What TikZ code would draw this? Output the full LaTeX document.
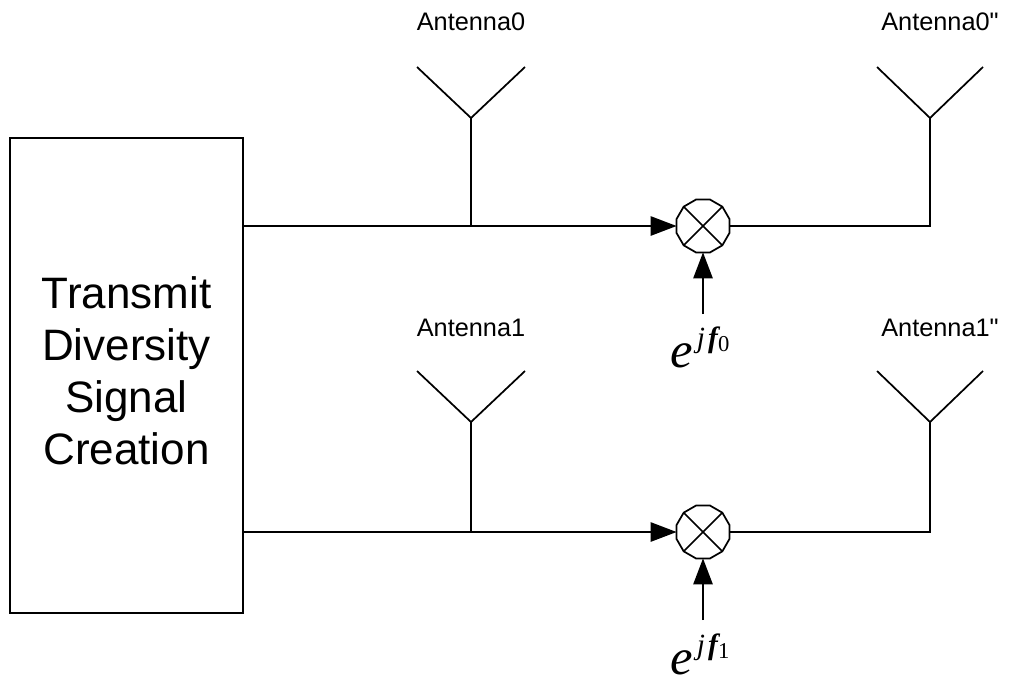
\documentclass[tikz,border=0pt]{standalone}
\usepackage{fontspec}
\usepackage{tikz}
\setmainfont{Liberation Sans}
\newfontfamily\labelfont{Liberation Sans}
\newfontfamily\phasefont{Liberation Serif}
\usetikzlibrary{arrows.meta}
\usetikzlibrary{positioning}
\usetikzlibrary{shapes.geometric}
\tikzset{wire/.style = {line width = 1.3pt}}
\tikzset{feed/.style = {wire, -{Triangle[length = 19.5pt, width = 14.5pt]}}}
\tikzset{mixer/.style = {wire, draw, regular polygon, regular polygon sides = 12, inner sep = 0, outer sep = 0, minimum size = 41pt}}
\tikzset{antlabel/.style = {inner sep = 0, anchor = base, font = \labelfont\fontsize{19}{23}\selectfont}}
\tikzset{phase/.style = {inner sep = 0, anchor = base west}}
\newcommand{\phaselabel}[1]{{\phasefont\fontsize{38}{38}\selectfont\itshape e\hspace{3pt}\raisebox{15pt}{\fontsize{22}{22}\selectfont j\hspace{2.5pt}\bfseries f\raisebox{-3.5pt}{\fontsize{17}{17}\selectfont\upshape\mdseries #1}}}}

\begin{document}
\begin{tikzpicture}[x = 0.75pt, y = -0.75pt]
      \useasboundingbox (0, 0) rectangle (1023, 689);

      \node [wire, draw, inner sep = 0, outer sep = 0, minimum width = 174.75pt, minimum height = 356.25pt] (box) at (126.5, 375.5) {};
      \node [align = center, inner sep = 0, font = \fontsize{33}{39}\selectfont] (title) at ([yshift = 3.75pt] box.center) {Transmit\\Diversity\\Signal\\Creation};

      \node [mixer] (mix0) at (703, 226) {};
      \node [mixer] (mix1) at (703, 532) {};
      \draw [wire] (mix0.135) -- (mix0.315);
      \draw [wire] (mix0.45) -- (mix0.225);
      \draw [wire] (mix1.135) -- (mix1.315);
      \draw [wire] (mix1.45) -- (mix1.225);

      % antennas
      \coordinate (ant0) at (471, 118);
      \coordinate (ant1) at (471, 422);
      \coordinate (ant2) at (930, 118);
      \coordinate (ant3) at (930, 422);
      \draw [wire] (ant0) -- +(-54, -51);
      \draw [wire] (ant0) -- +(54, -51);
      \draw [wire] (ant1) -- +(-54, -51);
      \draw [wire] (ant1) -- +(54, -51);
      \draw [wire] (ant2) -- +(-53, -51);
      \draw [wire] (ant2) -- +(53, -51);
      \draw [wire] (ant3) -- +(-53, -51);
      \draw [wire] (ant3) -- +(53, -51);

      \node [antlabel] (lab0) at (471, 30) {Antenna0};
      \node [antlabel] (lab1) at (471, 336) {Antenna1};
      \node [antlabel] (lab2) at (940, 30) {Antenna0"};
      \node [antlabel] (lab3) at (940, 336) {Antenna1"};

      \draw [feed] (box.east |- mix0) -- (mix0);
      \draw [feed] (box.east |- mix1) -- (mix1);
      \draw [wire] (ant0) -- (ant0 |- mix0);
      \draw [wire] (ant1) -- (ant1 |- mix1);
      \draw [wire] (mix0.east) -- (ant2 |- mix0) -- (ant2);
      \draw [wire] (mix1.east) -- (ant3 |- mix1) -- (ant3);

      \coordinate (in0) at (703, 314);
      \coordinate (in1) at (703, 620);
      \draw [feed] (in0) -- (mix0);
      \draw [feed] (in1) -- (mix1);

      \node [phase] (phi0) at (670, 367) {\phaselabel{0}};
      \node [phase] (phi1) at (670, 674) {\phaselabel{1}};
    \end{tikzpicture}
\end{document}
